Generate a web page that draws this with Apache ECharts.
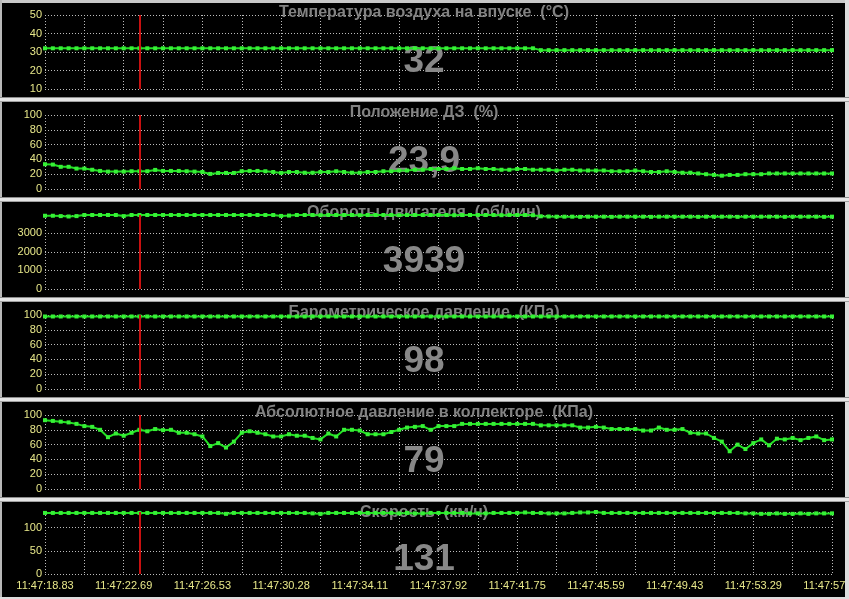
<!DOCTYPE html>
<html>
<head>
<meta charset="utf-8">
<script src="https://cdn.jsdelivr.net/npm/echarts@6/dist/echarts.min.js"></script>
<style>
html,body{margin:0;padding:0;background:#000;}
#chart{width:849px;height:599px;}
</style>
</head>
<body>
<div id="chart"></div>
<script>
// ---- data ----
var tickLabels = ['11:47:18.83','11:47:22.69','11:47:26.53','11:47:30.28','11:47:34.11','11:47:37.92','11:47:41.75','11:47:45.59','11:47:49.43','11:47:53.29','11:47:57.13'];
var cursorIndex = 12;

var titles = ['Температура воздуха на впуске  (°C)','Положение ДЗ  (%)','Обороты двигателя  (об/мин)','Барометрическое давление  (КПа)','Абсолютное давление в коллекторе  (КПа)','Скорость  (км/ч)'];
var currentValues = ['32','23,9','3939','98','79','131'];

var temperature = [
32,32,32,32,32,32,32,32,32,32, 32,32,32,32,32,32,32,32,32,32,
32,32,32,32,32,32,32,32,32,32, 32,32,32,32,32,32,32,32,32,32,
32,32,32,32,32,32,32,32,32,32, 32,32,32,32,32,32,32,32,32,32,
32,32,32,31,31,31,31,31,31,31, 31,31,31,31,31,31,31,31,31,31,
31,31,31,31,31,31,31,31,31,31, 31,31,31,31,31,31,31,31,31,31,
31];

var throttle = [
33.5,33,30,30,27.6,27.6,26,24.4,23.5,23.5, 23.5,24,24,24,25.8,24.4,24.4,24.4,24,23.5,
23,20.4,21.7,21.7,21.7,24,24.4,24.4,24,23, 21.7,23,
23,22,22,23,23,24,23,22,22,23,23,
24,24,25,25,26,26,27,27,
27,28,27,27,28,27,27,26,26,27,27,26,26,26,25,26,26,25,25,25,
25,24,24,24,25,24,23,23,24,23,22,22,21,20,19,
18,19,19,20,20,20,21,21,21,21,21,21,21,21,21];

var rpm = [
3950,3950,3930,3910,3930,3990,3990,3990,3990,3990,3930,3990,
3990,3990,3990,3990,3990,3990,3990,3990,3990,3990,3990,3990,3990,3990,3990,3990,3990,3990,3940,
3960,3990,3990,3990,3980,3990,3990,3990,3990,3980,3990,3990,3990,3990,3980,3990,3990,3990,3990,3990,3990,3980,3990,3990,3990,3990,3990,3980,3990,3990,3990,3980,
3920,3910,3900,3900,3900,3890,3900,3900,3900,3890,3900,3900,3900,3900,3890,3900,3900,3900,3900,3900,3890,3900,3900,3900,3900,3890,3900,3900,3900,3900,3900,3890,3900,3900,3900,3900,3890,3900];

var baro = [
98,98,98,98,98,98,98,98,98,98, 98,98,98,98,98,98,98,98,98,98,
98,98,98,98,98,98,98,98,98,98, 98,98,98,98,98,98,98,98,98,98,
98,98,98,98,98,98,98,98,98,98, 98,98,98,98,98,98,98,98,98,98,
98,98,98,98,98,98,98,98,98,98, 98,98,98,98,98,98,98,98,98,98,
98,98,98,98,98,98,98,98,98,98, 98,98,98,98,98,98,98,98,98,98,
98];

var manifold = [
93,92,91,90,88,85,84,80,70,75,72,76,80,78,81,79.5,80,76,76,74,71,58,62,56,64,76,78,76,74,71,71,74,72,
72,69,67,75,71,80,80,79,74,74,74,77,80,83,84,85,80,85,85,85,88,88,88,88,88,88,88,88,88,88,86,86,86,86,86,83,83,84,
83,81,81,81,81,79,79,83,80,80,81,76,75,75,69,64,51,60,54,62,67,59,68,67,69,66,69,71,66,67];

var speed = [
132,132,132,132,132,132,132,132,132,132, 132,132,132,132,132,132,132,132,132,132,
132,132,132,130,
132,132,132,132,132,132,132,132,132,132,
131,130,
132,132,132,132,132,132,132,132,132,
131,132,131,131,
132,132,132,132,132,
131,131,131,
132,132,132,132,
133,132,132,
131,131,131,
132,133,133,134,
132,132,132,132,132,132,132,132,132,132,132,132,132,132,132,132,132,132,
131,131,130,130,131,130,130,131,130,
131,131,131];

var seriesValues = [temperature, throttle, rpm, baro, manifold, speed];

// ---- layout / style ----
var gridTops = [15,115,215,315,415,512];
var gridHeights = [74,74,74,74,74,62];
var yCfg = [
  {min:10,max:50,interval:10},
  {min:0,max:100,interval:20},
  {min:0,max:3990,interval:1000},
  {min:0,max:100,interval:20},
  {min:0,max:100,interval:20},
  {min:0,max:134,interval:50}
];
var labelColor = '#e8e88a';
var gridLineStyle = {color:'#bcbcbc', width:1, type:[1,2]};

var grids=[], xAxes=[], yAxes=[], series=[], graphics=[];

for (var p=0;p<6;p++){
  grids.push({left:45, width:787, top:gridTops[p], height:gridHeights[p], containLabel:false, outerBoundsMode:'none'});
  xAxes.push({
    type:'value', gridIndex:p, min:0, max:100, interval:5,
    axisLine:{show:false}, axisTick:{show:false},
    splitLine:{show:true, lineStyle:gridLineStyle},
    axisLabel:{
      show: p===5, color:labelColor, fontSize:11, fontFamily:'Liberation Sans, Arial, sans-serif', margin:6,
      hideOverlap:false,
      formatter:function(v){ return (v%10===0) ? tickLabels[v/10] : ''; }
    }
  });
  yAxes.push({
    type:'value', gridIndex:p, min:yCfg[p].min, max:yCfg[p].max, interval:yCfg[p].interval,
    axisLine:{show:false}, axisTick:{show:false},
    splitLine:{show:true, lineStyle:gridLineStyle},
    axisLabel:{color:labelColor, fontSize:11, fontFamily:'Liberation Sans, Arial, sans-serif', margin:3,
      formatter:function(v){ return String(v); },
      showMaxLabel: (p===2||p===5) ? false : true}
  });
  var vals = seriesValues[p];
  series.push({
    type:'line', xAxisIndex:p, yAxisIndex:p,
    data: vals.map(function(v,i){return [i,v];}),
    symbol:'rect', symbolSize:4, showSymbol:true,
    lineStyle:{color:'#24e024', width:2},
    itemStyle:{color:'#36f036'},
    animation:false, silent:true,
    markLine:{
      silent:true, symbol:'none', animation:false,
      label:{show:false},
      lineStyle:{color:'#c81010', width:2, type:'solid'},
      data:[{xAxis:cursorIndex}]
    }
  });
  graphics.push({
    type:'text', z:1, x:424, y:100*p+13,
    style:{text:titles[p], fill:'#828282', font:'bold 16px "Liberation Sans", Arial, sans-serif', textAlign:'center', textVerticalAlign:'middle', verticalAlign:'middle'}
  });
  graphics.push({
    type:'text', z:1, x:424, y:(p===5?560:100*p+62),
    style:{text:currentValues[p], fill:'#888888', font:'bold 37px "Liberation Sans", Arial, sans-serif', textAlign:'center', textVerticalAlign:'middle', verticalAlign:'middle'}
  });
}

// frame & separators
graphics.push({type:'rect', z:100, shape:{x:0,y:0,width:849,height:3}, style:{fill:'#c8c8c8'}});
graphics.push({type:'rect', z:100, shape:{x:0,y:0,width:2,height:599}, style:{fill:'#b8b8b8'}});
graphics.push({type:'rect', z:100, shape:{x:845,y:0,width:4,height:599}, style:{fill:'#dcdcdc'}});
graphics.push({type:'rect', z:100, shape:{x:0,y:597,width:849,height:2}, style:{fill:'#dcdcdc'}});
for (var s=1;s<6;s++){
  graphics.push({type:'rect', z:100, shape:{x:0,y:100*s-3,width:849,height:5}, style:{fill:'#e4e4e4'}});
  graphics.push({type:'rect', z:101, shape:{x:0,y:100*s-3,width:849,height:1}, style:{fill:'#8c8c8c'}});
  graphics.push({type:'rect', z:101, shape:{x:0,y:100*s+1,width:849,height:1}, style:{fill:'#a0a0a0'}});
}

var chart = echarts.init(document.getElementById('chart'), null, {renderer:'canvas'});
chart.setOption({
  backgroundColor:'#000',
  animation:false,
  grid:grids, xAxis:xAxes, yAxis:yAxes, series:series,
  graphic:graphics
});
</script>
</body>
</html>
